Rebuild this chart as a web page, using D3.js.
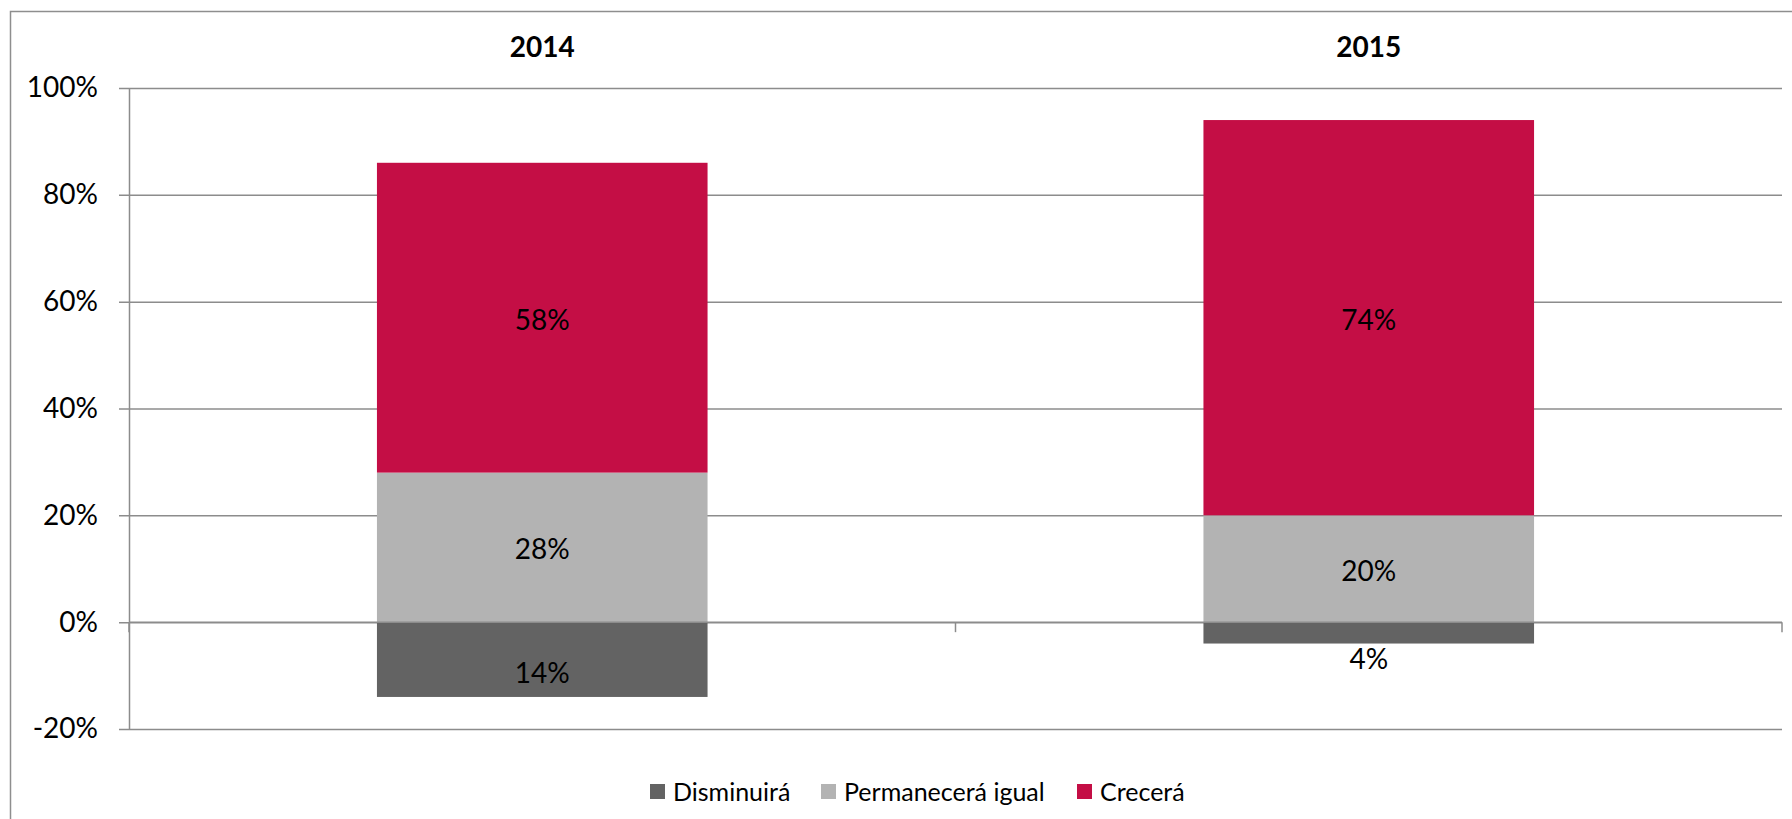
<!DOCTYPE html>
<html>
<head>
<meta charset="utf-8">
<script src="https://cdn.jsdelivr.net/npm/d3@7"></script>
<style>
  html, body { margin: 0; padding: 0; background: #fff; }
  svg { display: block; font-family: Lato, "Open Sans", sans-serif; }
</style>
</head>
<body>
<svg id="chart" width="1792" height="819"></svg>
<script>
// ---- data ----
const categories = ["2014", "2015"];
const seriesNames = ["Disminuirá", "Permanecerá igual", "Crecerá"];
const disminuira = [-0.14, -0.04];
const permanecera = [0.28, 0.20];
const crecera = [0.58, 0.74];
const yTicks = [-0.2, 0, 0.2, 0.4, 0.6, 0.8, 1.0];
const colors = ["#636363", "#B3B3B3", "#C40E45"];

// ---- layout ----
const svg = d3.select("#chart");
const plotLeft = 129, plotRight = 1782, plotTop = 88, plotBottom = 729;

const rows = categories.map((c, i) => ({
  cat: c,
  "Disminuirá": disminuira[i],
  "Permanecerá igual": permanecera[i],
  "Crecerá": crecera[i]
}));

const x = d3.scaleBand().domain(categories).range([plotLeft, plotRight]).paddingInner(0.6).paddingOuter(0.3);
const xOuter = d3.scaleBand().domain(categories).range([plotLeft, plotRight]);
const y = d3.scaleLinear().domain([-0.2, 1.0]).range([plotBottom, plotTop]);
const pct = v => Math.round(v * 100) + "%";

// outer border
svg.append("rect")
  .attr("x", 10.5).attr("y", 11.5)
  .attr("width", 1800).attr("height", 900)
  .attr("fill", "none").attr("stroke", "#8e8e8e").attr("stroke-width", 1.5);

// gridlines + y axis
const yAxis = d3.axisLeft(y).tickValues(yTicks).tickFormat(pct)
  .tickSize(-(plotRight - plotLeft)).tickSizeOuter(0).tickPadding(21);
const gy = svg.append("g").attr("transform", `translate(${plotLeft},0)`).call(yAxis);
gy.select(".domain").attr("stroke", "#8c8c8c").attr("stroke-width", 1.5);
gy.selectAll(".tick line").attr("stroke", "#8c8c8c").attr("stroke-width", 1.5).attr("x1", -10);
gy.selectAll(".tick text").attr("font-size", 28).attr("fill", "#000")
  .attr("font-family", "Lato, sans-serif").attr("x", -31);

// bars
const stack = d3.stack().keys(seriesNames).offset(d3.stackOffsetDiverging);
const stacked = stack(rows);

const g = svg.append("g");
stacked.forEach((s, si) => {
  g.selectAll(null).data(s).enter().append("rect")
    .attr("x", d => x(d.data.cat))
    .attr("width", x.bandwidth())
    .attr("y", d => y(Math.max(d[0], d[1])))
    .attr("height", d => Math.abs(y(d[0]) - y(d[1])))
    .attr("fill", colors[si]);
});

// x axis line at zero with category ticks
const xAxisG = svg.append("g");
xAxisG.append("line")
  .attr("x1", plotLeft).attr("x2", plotRight)
  .attr("y1", y(0)).attr("y2", y(0))
  .attr("stroke", "#8c8c8c").attr("stroke-width", 1.5);
const boundaries = categories.map(c => xOuter(c)).concat([plotRight]);
xAxisG.selectAll(null).data(boundaries).enter().append("line")
  .attr("x1", d => d).attr("x2", d => d)
  .attr("y1", y(0)).attr("y2", y(0) + 10)
  .attr("stroke", "#8c8c8c").attr("stroke-width", 1.5);

// data labels
stacked.forEach((s, si) => {
  g.selectAll(null).data(s).enter().append("text")
    .attr("x", d => x(d.data.cat) + x.bandwidth() / 2)
    .attr("y", d => {
      const y0 = y(d[0]), y1 = y(d[1]);
      const mid = (y0 + y1) / 2;
      const h = Math.abs(y0 - y1);
      const v = d.data[s.key];
      if (v < 0) {
        if (h < 30) return Math.max(y0, y1) + 14;
        return mid + 12;
      }
      return mid + 1;
    })
    .attr("text-anchor", "middle")
    .attr("dominant-baseline", "central")
    .attr("font-size", 28)
    .attr("fill", "#000")
    .text(d => pct(Math.abs(d.data[s.key])));
});

// category titles on top
svg.selectAll(null).data(categories).enter().append("text")
  .attr("x", d => xOuter(d) + xOuter.bandwidth() / 2)
  .attr("y", 46)
  .attr("text-anchor", "middle")
  .attr("dominant-baseline", "central")
  .attr("font-size", 28)
  .attr("font-weight", "bold")
  .attr("fill", "#000")
  .text(d => d);

// legend
const legendX = [650, 821, 1077];
const lg = svg.append("g");
seriesNames.forEach((n, i) => {
  lg.append("rect").attr("x", legendX[i]).attr("y", 784)
    .attr("width", 15).attr("height", 15).attr("fill", colors[i]);
  lg.append("text").attr("x", legendX[i] + 23).attr("y", 791)
    .attr("dominant-baseline", "central")
    .attr("font-size", 25).attr("fill", "#000").text(n);
});
</script>
</body>
</html>
